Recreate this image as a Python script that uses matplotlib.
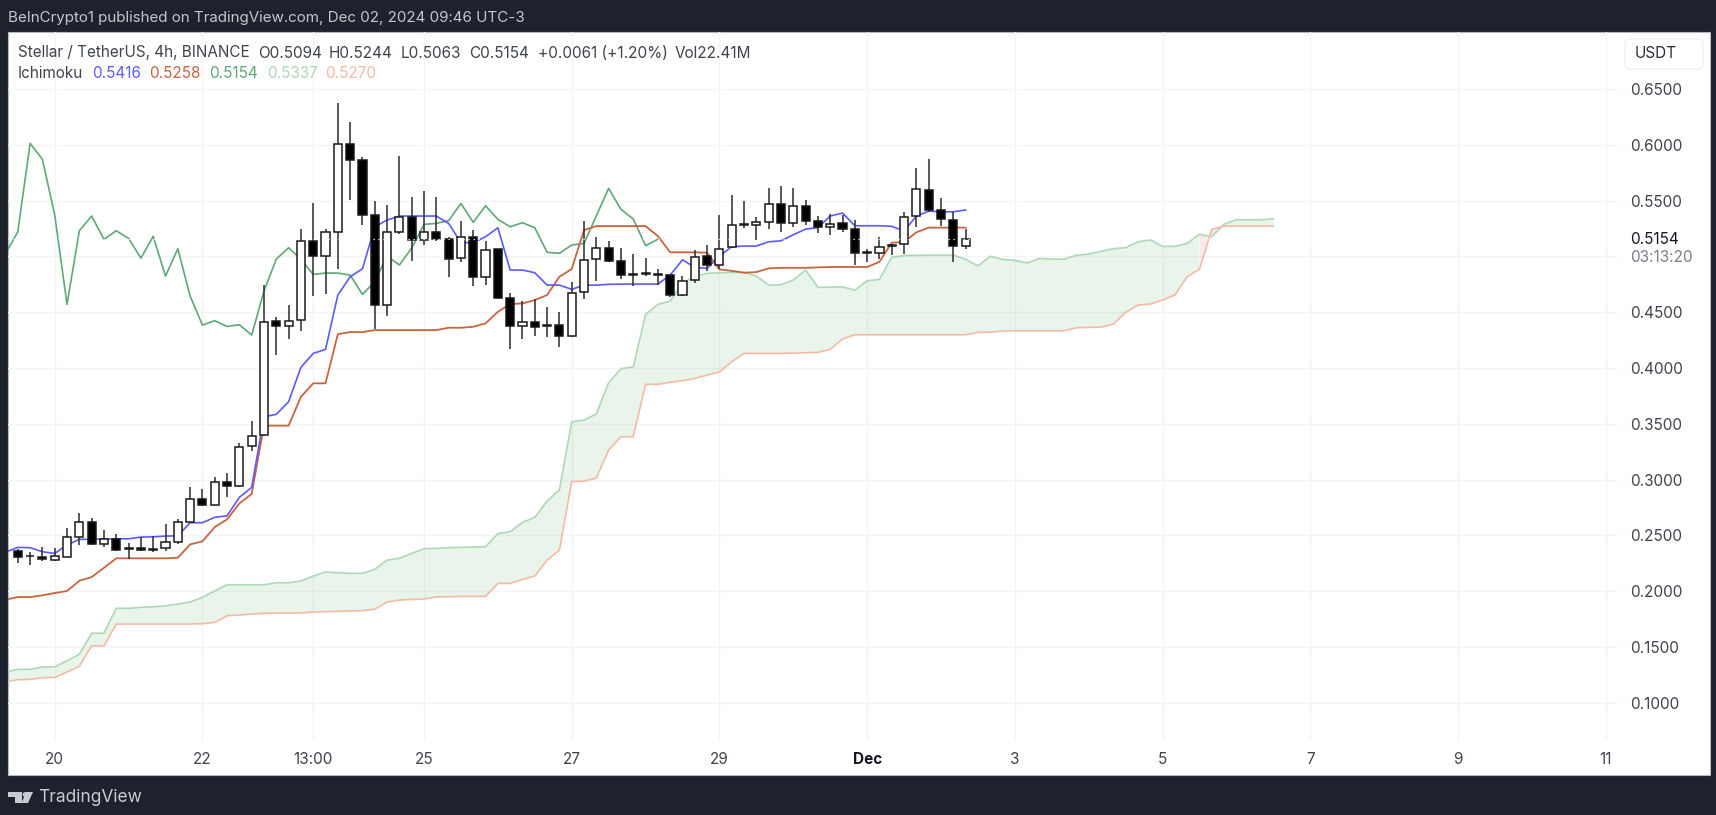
import numpy as np
import matplotlib
matplotlib.use("Agg")
import matplotlib.pyplot as plt
from matplotlib.patches import Rectangle, Polygon, Circle, FancyBboxPatch
from matplotlib.transforms import Affine2D

plt.rcParams['font.family'] = ['Inter', 'DejaVu Sans']

# 4h candles, first one is bar 0
opens = [.2357,.2318,.2309,.2282,.2309,.2488,.2617,.2425,.2468,.2384,
         .2384,.2378,.2390,.2443,.2620,.2829,.2775,.2978,.2942,.3301,
         .3399,.4418,.4379,.4427,.5140,.5006,.5218,.6009,.5863,.5373,
         .4561,.5221,.5355,.5144,.5218,.5153,.4983,.5174,.4818,.5063,
         .4627,.4379,.4415,.4385,.4385,.4286,.4681,.4976,.5072,.4958,
         .4845,.4851,.4839,.4830,.4654,.4785,.5007,.4926,.5084,.5281,
         .5284,.5311,.5472,.5299,.5451,.5317,.5266,.5296,.5248,.5036,
         .5027,.5096,.5108,.5359,.5597,.5415,.5326,.5094]
closes = [.2309,.2315,.2286,.2313,.2485,.2617,.2425,.2468,.2369,.2378,
          .2369,.2366,.2438,.2617,.2829,.2772,.2978,.2945,.3295,.3393,
          .4416,.4379,.4424,.5140,.5006,.5216,.6009,.5863,.5373,.4561,
          .5218,.5355,.5144,.5218,.5158,.4976,.5174,.4812,.5060,.4627,
          .4376,.4415,.4367,.4373,.4286,.4674,.4967,.5072,.4961,.4830,
          .4833,.4845,.4833,.4654,.4782,.4997,.4926,.5069,.5284,.5290,
          .5308,.5472,.5299,.5451,.5320,.5263,.5293,.5248,.5030,.5030,
          .5087,.5102,.5350,.5604,.5415,.5335,.5093,.5154]
highs = [.2375,.2354,.2399,.2384,.2563,.2698,.2653,.2548,.2510,.2434,
         .2483,.2494,.2602,.2644,.2936,.2913,.3020,.3056,.3330,.3525,
         .4743,.4454,.4567,.5245,.5481,.5242,.6371,.6201,.5893,.5499,
         .5463,.5899,.5535,.5586,.5535,.5171,.5317,.5236,.5138,.5063,
         .4669,.4600,.4618,.4544,.4504,.4773,.5317,.5171,.5138,.5075,
         .5021,.4983,.4884,.4830,.4824,.5057,.5102,.5371,.5550,.5496,
         .5350,.5612,.5630,.5610,.5505,.5362,.5377,.5371,.5326,.5063,
         .5176,.5108,.5395,.5794,.5875,.5526,.5395,.5244]
lows = [.2250,.2235,.2273,.2270,.2304,.2414,.2416,.2399,.2365,.2291,
        .2363,.2351,.2363,.2420,.2617,.2763,.2772,.2841,.2936,.3259,
        .3390,.4116,.4257,.4334,.4645,.4663,.4884,.5505,.5278,.4347,
        .4468,.5198,.4958,.5102,.5135,.4818,.4952,.4732,.4743,.4621,
        .4167,.4257,.4286,.4275,.4185,.4275,.4615,.4779,.4952,.4797,
        .4737,.4824,.4743,.4639,.4645,.4759,.4866,.4884,.5078,.5257,
        .5147,.5245,.5221,.5260,.5281,.5212,.5191,.5221,.4923,.4952,
        .4974,.5012,.5021,.5260,.5395,.5275,.4952,.5063]

# ichimoku lines, all start at bar -1 (just off the left edge)
tenkan = [.2351,.2393,.2390,.2354,.2339,.2414,.2465,.2465,.2468,.2470,
          .2470,.2485,.2488,.2494,.2497,.2614,.2614,.2662,.2676,.2841,
          .2931,.3563,.3585,.3698,.4006,.4131,.4167,.4654,.4818,.4889,
          .5266,.5326,.5362,.5362,.5362,.5362,.5296,.5123,.5123,.5176,
          .5257,.4878,.4878,.4854,.4743,.4743,.4705,.4743,.4743,.4750,
          .4752,.4752,.4752,.4752,.4833,.4970,.4902,.4893,.5003,.5087,
          .5093,.5093,.5131,.5140,.5194,.5245,.5257,.5362,.5389,.5275,
          .5275,.5275,.5270,.5227,.5362,.5406,.5400,.5400,.5416]
kijun = [.1924,.1948,.1948,.1963,.1984,.2002,.2094,.2127,.2210,.2295,
         .2295,.2295,.2295,.2295,.2300,.2420,.2447,.2575,.2644,.2787,
         .2871,.3484,.3484,.3484,.3742,.3863,.3863,.4304,.4322,.4322,
         .4340,.4340,.4340,.4340,.4340,.4340,.4361,.4361,.4370,.4400,
         .4504,.4573,.4579,.4609,.4654,.4818,.4887,.5236,.5272,.5272,
         .5272,.5272,.5272,.5182,.5037,.5037,.5037,.5033,.4884,.4871,
         .4854,.4860,.4893,.4898,.4898,.4898,.4902,.4905,.4905,.4905,
         .4905,.4952,.5123,.5129,.5216,.5258,.5258,.5258,.5258]
chikou = [.5024,.5221,.6013,.5870,.5371,.4570,.5230,.5362,.5153,.5230,
          .5162,.4985,.5180,.4824,.5069,.4645,.4385,.4424,.4373,.4388,
          .4295,.4690,.4976,.5078,.4974,.4839,.4851,.4851,.4833,.4660,
          .4773,.5006,.4923,.5075,.5287,.5296,.5320,.5475,.5305,.5454,
          .5332,.5266,.5302,.5257,.5037,.5028,.5102,.5117,.5364,.5610,
          .5422,.5335,.5096,.5154]
span_a = [.1276,.1300,.1300,.1321,.1323,.1377,.1435,.1623,.1623,.1847,
          .1847,.1856,.1861,.1870,.1885,.1903,.1945,.2004,.2058,.2058,
          .2058,.2058,.2076,.2076,.2091,.2136,.2172,.2166,.2160,.2160,
          .2196,.2279,.2295,.2339,.2381,.2384,.2390,.2393,.2396,.2399,
          .2517,.2533,.2617,.2662,.2808,.2907,.3519,.3534,.3588,.3868,
          .3994,.4011,.4481,.4570,.4600,.4759,.4824,.4848,.4854,.4857,
          .4857,.4824,.4743,.4746,.4788,.4878,.4723,.4725,.4728,.4698,
          .4782,.4794,.4992,.5008,.5010,.5012,.5012,.5012,.4974,.4916,
          .5001,.4974,.4965,.4941,.4983,.4976,.4976,.5010,.5021,.5045,
          .5069,.5078,.5131,.5149,.5090,.5090,.5117,.5198,.5176,.5290,
          .5329,.5329,.5329,.5337]
span_b = [.1189,.1207,.1210,.1225,.1228,.1276,.1327,.1511,.1511,.1706,
          .1706,.1706,.1706,.1706,.1706,.1706,.1709,.1721,.1780,.1787,
          .1796,.1802,.1805,.1805,.1805,.1814,.1817,.1820,.1823,.1826,
          .1838,.1903,.1921,.1927,.1930,.1950,.1950,.1954,.1954,.1954,
          .2070,.2070,.2106,.2136,.2279,.2369,.2983,.2985,.3014,.3265,
          .3384,.3384,.3854,.3854,.3872,.3886,.3907,.3937,.3964,.4056,
          .4131,.4131,.4131,.4131,.4134,.4137,.4140,.4167,.4260,.4298,
          .4298,.4298,.4298,.4298,.4298,.4298,.4298,.4298,.4298,.4320,
          .4322,.4331,.4334,.4334,.4334,.4334,.4334,.4361,.4364,.4367,
          .4394,.4499,.4564,.4573,.4609,.4654,.4818,.4887,.5242,.5272,
          .5272,.5272,.5272,.5272]

tick_bars = [3, 15, 24, 33, 45, 57, 69, 81, 93, 105, 117, 129]
tick_labels = ["20", "22", "13:00", "25", "27", "29", "Dec", "3", "5", "7", "9", "11"]
price_ticks = [.10, .15, .20, .25, .30, .35, .40, .45, .50, .55, .60, .65]
last_price = 0.5154

DARK = "#1e222d"
TXT = "#3f434d"

W, H = 1716, 815
fig = plt.figure(figsize=(W/100, H/100), dpi=100, facecolor=DARK)
# picture pixels, y going down
pix = Affine2D().scale(1, -1).translate(0, H)

fig.add_artist(Rectangle((8, 32), 1702, 743, transform=pix, facecolor="white", edgecolor="#b4b7bf", lw=0.8, zorder=-1))

ax = fig.add_axes([8/W, (H-740)/H, (1618-8)/W, (740-32)/H], facecolor="none")
for s in ax.spines.values():
    s.set_visible(False)

bars = np.arange(len(opens))
opens, closes, highs, lows = map(np.array, (opens, closes, highs, lows))
up = closes >= opens

# cloud
xa = np.arange(len(span_a)) - 1
sa = np.array(span_a)
sb = np.array(span_b)
cross = sa < sb
pink = cross | np.roll(cross, 1) | np.roll(cross, -1)
ax.fill_between(xa, sa, sb, where=~cross, color="#43a047", alpha=0.115, lw=0, zorder=1)
ax.fill_between(xa, sa, sb, where=pink, color="#f06060", alpha=0.14, lw=0, zorder=1)
ax.plot(xa, sa, color="#aed8b8", lw=1.2, zorder=2)
ax.plot(xa, sb, color="#f3bba6", lw=1.2, zorder=2)

ax.plot(np.arange(len(chikou))-1, chikou, color="#5fa877", lw=1.2, zorder=3)
ax.plot(np.arange(len(kijun))-1, kijun, color="#c8643f", lw=1.3, zorder=3)
ax.plot(np.arange(len(tenkan))-1, tenkan, color="#5a5aff", lw=1.2, zorder=3)

# candles
ax.vlines(bars, lows, highs, color="#333333", lw=1.15, zorder=4)
ax.bar(bars, np.abs(closes-opens), bottom=np.minimum(opens, closes), width=0.66,
       color=np.where(up, "white", "black"), edgecolor="#1a1a1a", lw=1.1, zorder=5)

# last price line, only shows on top of things
ax.axhline(last_price, color="white", lw=0.9, ls=(0, (1, 3)), zorder=6)

ax.set_xlim(-0.796, 130.0)
ax.set_ylim(0.0667, 0.7011)
ax.set_xticks(tick_bars)
ax.set_xticklabels(tick_labels, fontsize=11, color=TXT)
ax.get_xticklabels()[6].set_fontweight("bold")
ax.get_xticklabels()[6].set_color("#131722")
ax.set_yticks(price_ticks)
ax.set_yticklabels(["" if p == .50 else "%.4f" % p for p in price_ticks], fontsize=11, color=TXT)
ax.yaxis.tick_right()
ax.tick_params(axis="both", length=0)
ax.tick_params(axis="x", pad=9)
ax.tick_params(axis="y", pad=8.6)
ax.grid(True, color="#f3f4f6", lw=1)
ax.set_axisbelow(True)

def label(x, y, s, color=TXT, size=11, **kw):
    fig.text(x, y, s, transform=pix, color=color, fontsize=size, va="center", **kw)

# header and footer
label(8, 18, "BeInCrypto1 published on TradingView.com, Dec 02, 2024 09:46 UTC-3", color="#c3c6ce", size=10.9)
label(18, 53, "Stellar / TetherUS, 4h, BINANCE")
label(258, 53, "O0.5094")
label(329, 53, "H0.5244")
label(400.5, 53, "L0.5063")
label(469.5, 53, "C0.5154")
label(537.5, 53, "+0.0061 (+1.20%)")
label(675, 53, "Vol22.41M")
label(18, 74, "Ichimoku")
label(92, 74, "0.5416", color="#5a5aff")
label(149, 74, "0.5258", color="#c8643f")
label(209, 74, "0.5154", color="#5fa877")
label(267, 74, "0.5337", color="#aed8b8")
label(325, 74, "0.5270", color="#f3bba6")

# price axis box and countdown
fig.add_artist(FancyBboxPatch((1625, 39), 78, 30, boxstyle="round,pad=0,rounding_size=5", transform=pix,
                              facecolor="white", edgecolor="#eef0f3", lw=1))
label(1635, 54, "USDT", color="#2a2e39")
label(1630, 239, "0.5154", color="#131722")
label(1630, 257, "03:13:20", color="#7b7e88")

# logo
LOGO = "#c8cbd3"
fig.add_artist(Polygon([(8, 792), (22, 792), (22, 803), (15, 803), (15, 797), (8, 797)], transform=pix, color=LOGO, lw=0))
fig.add_artist(Circle((25, 794.5), 2.4, transform=pix, color=LOGO, lw=0))
fig.add_artist(Polygon([(26, 792), (33, 792), (28, 803), (21.5, 803)], transform=pix, color=LOGO, lw=0))
label(38, 798, "TradingView", color=LOGO, size=12.5)

fig.savefig("out.png", dpi=100, facecolor=DARK)
